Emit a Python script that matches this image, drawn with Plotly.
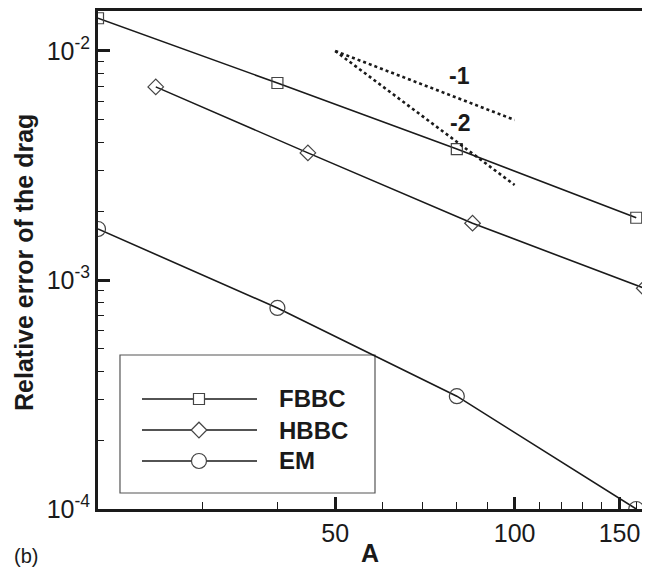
import numpy as np
import plotly.graph_objects as go

# ---- data ----
x_fbbc = [20, 40, 80, 160]
y_fbbc = [1.39e-2, 7.25e-3, 3.73e-3, 1.87e-3]
x_hbbc = [25, 45, 85, 165]
y_hbbc = [6.97e-3, 3.59e-3, 1.77e-3, 9.2e-4]
x_em = [20, 40, 80, 160]
y_em = [1.67e-3, 7.55e-4, 3.11e-4, 1.0e-4]

x_ref = [50, 100]
y_ref1 = [1.0e-2, 5.0e-3]
y_ref2 = [1.0e-2, 2.6e-3]

series_names = ["FBBC", "HBBC", "EM"]
series_symbols = ["square-open", "diamond-open", "circle-open"]
series_sizes = [11, 12, 15]

x_tickvals = [50, 100, 150]
x_ticktext = ["50", "100", "150"]
x_minor = [30, 40, 60, 70, 80, 90, 110, 120, 130, 140, 160]
y_tickvals = [1e-4, 1e-3, 1e-2]
y_ticktext = ["10<sup>-4</sup>", "10<sup>-3</sup>", "10<sup>-2</sup>"]
y_minor = [m * 10.0 ** e for e in (-4, -3) for m in range(2, 10)]

FONT = "Liberation Sans, Arial, Helvetica, sans-serif"
INK = "#1a1a1a"
MK = "#444444"

fig = go.Figure()

datasets = [(x_fbbc, y_fbbc), (x_hbbc, y_hbbc), (x_em, y_em)]
for (xs, ys), name, sym, sz in zip(datasets, series_names, series_symbols, series_sizes):
    fig.add_trace(go.Scatter(
        x=xs, y=ys, mode="lines+markers", name=name,
        line=dict(color=INK, width=1.6),
        marker=dict(symbol=sym, size=sz, color=MK, line=dict(color=MK, width=1.2)),
        showlegend=False,
    ))

for yr in (y_ref1, y_ref2):
    fig.add_trace(go.Scatter(
        x=x_ref, y=yr, mode="lines",
        line=dict(color=INK, width=2.6, dash="dot"),
        showlegend=False, hoverinfo="skip",
    ))

# ---- custom legend (layout glyphs, paper coordinates) ----
box = dict(x0=0.0402, x1=0.5064, y0=0.0321, y1=0.3092)
fig.add_shape(type="rect", xref="paper", yref="paper", **box,
              line=dict(color="#555555", width=1.2), fillcolor="rgba(0,0,0,0)", layer="below")
row_y = [0.2209, 0.1586, 0.0964]
lx0, lx1, mx, tx = 0.0804, 0.2907, 0.1846, 0.3272
for ry, name, sym, sz in zip(row_y, series_names, series_symbols, series_sizes):
    fig.add_shape(type="line", xref="paper", yref="paper", x0=lx0, x1=lx1, y0=ry, y1=ry,
                  line=dict(color=INK, width=1.6), layer="below")
    fig.add_annotation(xref="paper", yref="paper", x=tx, y=ry, text="<b>%s</b>" % name,
                       showarrow=False, xanchor="left", yanchor="middle",
                       font=dict(family=FONT, size=24, color=INK))
    fig.add_trace(go.Scatter(
        x=[mx], y=[ry], xaxis="x2", yaxis="y2", mode="markers",
        marker=dict(symbol=sym.replace("-open", ""), size=sz, color="white",
                    line=dict(color=MK, width=1.2)),
        showlegend=False, hoverinfo="skip", cliponaxis=False,
    ))

# slope labels
fig.add_annotation(xref="paper", yref="paper", x=0.660, y=0.8695, text="<b>-1</b>",
                   showarrow=False, xanchor="center", yanchor="middle",
                   font=dict(family=FONT, size=23, color=INK))
fig.add_annotation(xref="paper", yref="paper", x=0.662, y=0.775, text="<b>-2</b>",
                   showarrow=False, xanchor="center", yanchor="middle",
                   font=dict(family=FONT, size=23, color=INK))

# axis titles and panel label
fig.add_annotation(xref="paper", yref="paper", x=-0.1353, y=0.496,
                   text="<b>Relative error of the drag</b>", textangle=-90,
                   showarrow=False, xanchor="center", yanchor="middle",
                   font=dict(family=FONT, size=25, color=INK))
fig.add_annotation(xref="paper", yref="paper", x=0.497, y=-0.088, text="<b>A</b>",
                   showarrow=False, xanchor="center", yanchor="middle",
                   font=dict(family=FONT, size=25, color=INK))
fig.add_annotation(xref="paper", yref="paper", x=-0.132, y=-0.094, text="(b)",
                   showarrow=False, xanchor="center", yanchor="middle",
                   font=dict(family=FONT, size=20, color=INK))

# page body has an 8px default margin; size the figure so the plot frame lands
# where the reference frame is
fig.update_layout(
    width=642, height=562,
    margin=dict(l=90, r=5, t=3, b=61, autoexpand=False),
    paper_bgcolor="white", plot_bgcolor="white",
    font=dict(family=FONT, size=25, color=INK),
    xaxis=dict(
        type="log", range=[np.log10(20), np.log10(165.5)], automargin=False,
        tickmode="array", tickvals=x_tickvals, ticktext=x_ticktext,
        ticks="inside", ticklen=12, tickwidth=2.6, tickcolor=INK,
        showline=True, linewidth=3, linecolor=INK, mirror=True,
        showgrid=False, zeroline=False,
        minor=dict(tickmode="array", tickvals=x_minor, ticks="inside",
                   ticklen=7, tickwidth=1.4, tickcolor=INK, showgrid=False),
        tickfont=dict(family=FONT, size=25),
    ),
    yaxis=dict(
        type="log", range=[-4, np.log10(0.01495)], automargin=False,
        tickmode="array", tickvals=y_tickvals, ticktext=y_ticktext,
        ticks="inside", ticklen=12, tickwidth=2.6, tickcolor=INK,
        showline=True, linewidth=3, linecolor=INK, mirror=True,
        showgrid=False, zeroline=False,
        minor=dict(tickmode="array", tickvals=y_minor, ticks="inside",
                   ticklen=6, tickwidth=1.4, tickcolor=INK, showgrid=False),
        tickfont=dict(family=FONT, size=25),
    ),
    xaxis2=dict(overlaying="x", range=[0, 1], visible=False, fixedrange=True, automargin=False),
    yaxis2=dict(overlaying="y", range=[0, 1], visible=False, fixedrange=True, automargin=False),
)

fig.write_html("out.html")
